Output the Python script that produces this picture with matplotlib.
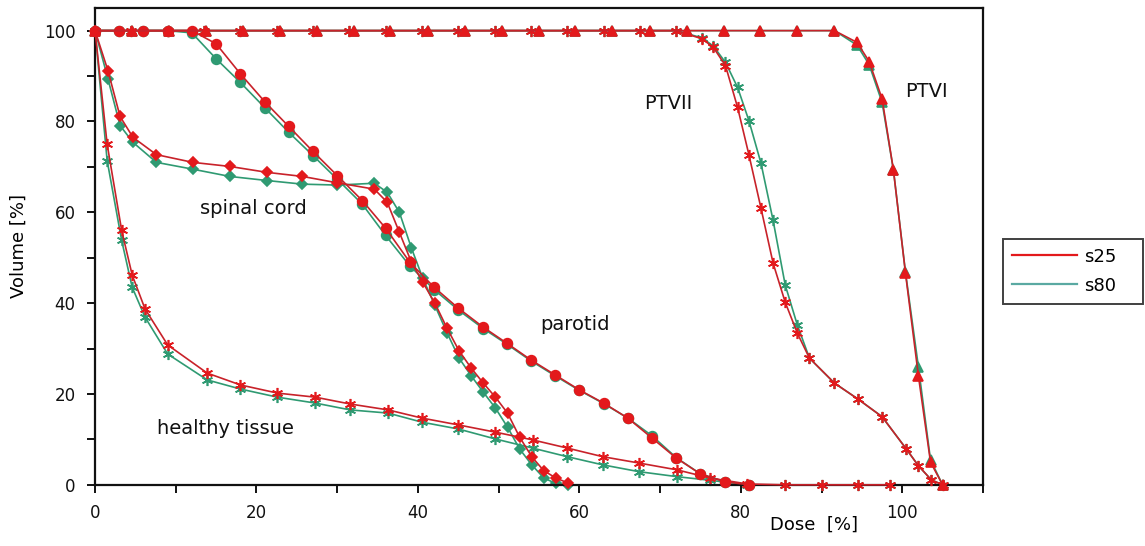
import matplotlib
matplotlib.use("Agg")
import matplotlib.pyplot as plt
from matplotlib.lines import Line2D
from matplotlib.ticker import MultipleLocator

# --------------------------------------------------------------------------- #
# data: dose [%] vs volume [%], s25 (red) and s80 (green)
# --------------------------------------------------------------------------- #
ptv1_dose = [0, 4.6, 9.2, 13.7, 18.3, 22.9, 27.5, 32.1, 36.6, 41.2, 45.8, 50.4,
             55.0, 59.5, 64.1, 68.7, 73.3, 77.9, 82.4, 87.0, 91.6,
             94.4, 95.9, 97.5, 98.9, 100.4, 102.0, 103.5, 105.0]
ptv1_s25 = [100] * 21 + [97.4, 93.2, 85.0, 69.4, 46.6, 24.0, 5.0, 0]
ptv1_s80 = [100] * 21 + [96.8, 92.5, 84.2, 69.4, 46.8, 26.0, 5.5, 0]

ptv2_dose = [0, 4.5, 9.0, 13.5, 18.0, 22.5, 27.0, 31.5, 36.0, 40.5, 45.0, 49.5,
             54.0, 58.5, 63.0, 67.5, 72.0,
             75.2, 76.6, 78.1, 79.6, 81.0, 82.5, 84.0, 85.5, 87.0, 88.5,
             91.6, 94.5, 97.5, 100.5, 102.0, 103.6, 105.0]
ptv2_s25 = [100] * 17 + [98.2, 96.3, 92.3, 83.1, 72.7, 60.9, 48.8, 40.2, 33.4, 27.9,
                         22.4, 18.9, 15.0, 7.9, 4.2, 1.1, 0]
ptv2_s80 = [100] * 17 + [98.4, 96.6, 93.0, 87.5, 80.2, 70.8, 58.2, 44.0, 35.2, 27.9,
                         22.4, 18.9, 15.0, 7.9, 4.2, 1.1, 0]

par_dose = [0, 3.0, 6.0, 9.0, 12.0, 15.0, 18.0, 21.1, 24.0, 27.0, 30.0, 33.1, 36.0,
            39.0, 42.0, 45.0, 48.1, 51.0, 54.0, 57.0, 60.0, 63.0, 66.0, 69.0, 72.0,
            75.0, 78.0, 81.0]
par_s25 = [100, 100, 100, 100, 100, 97.1, 90.5, 84.2, 78.9, 73.4, 68.1, 62.6, 56.5,
           49.0, 43.5, 38.9, 34.7, 31.2, 27.5, 24.2, 20.9, 18.0, 14.7, 10.3, 5.9,
           2.4, 0.7, 0]
par_s80 = [100, 100, 100, 100, 99.5, 93.8, 88.6, 82.9, 77.6, 72.5, 67.3, 61.8, 54.9,
           48.2, 43.0, 38.5, 34.4, 31.0, 27.3, 24.0, 20.8, 17.9, 14.7, 10.8, 6.0,
           2.4, 0.7, 0]

cord_dose = [0, 1.6, 3.1, 4.7, 7.6, 12.1, 16.7, 21.3, 25.7, 30.0, 34.6, 36.2, 37.7,
             39.2, 40.6, 42.1, 43.6, 45.1, 46.6, 48.1, 49.6, 51.1, 52.6, 54.1, 55.6,
             57.1, 58.6]
cord_s25 = [100, 91.2, 81.1, 76.5, 72.7, 71.0, 70.1, 68.8, 67.9, 66.5, 65.1, 62.2, 55.6,
            49.0, 44.6, 40.0, 34.5, 29.5, 25.7, 22.4, 19.3, 15.8, 10.5, 6.2, 3.1,
            1.5, 0.4]
cord_s80 = [100, 89.4, 79.1, 75.4, 71.0, 69.5, 67.9, 67.0, 66.2, 66.0, 66.4, 64.4, 60.0,
            52.1, 45.5, 39.5, 33.5, 27.9, 24.0, 20.4, 16.9, 12.7, 7.9, 4.4, 1.5,
            0.3, 0]

hlth_dose = [0, 1.5, 3.3, 4.6, 6.2, 9.0, 13.9, 18.0, 22.6, 27.3, 31.6, 36.3, 40.5,
             45.0, 49.6, 54.2, 58.5, 62.9, 67.4, 72.1, 76.2, 80.8, 85.5, 90.1, 94.5,
             98.5]
hlth_s25 = [100, 75.0, 56.0, 46.2, 38.7, 30.8, 24.6, 22.0, 20.2, 19.3, 17.8, 16.5, 14.7,
            13.2, 11.6, 9.9, 8.1, 6.2, 4.8, 3.3, 1.5, 0.2, 0, 0, 0, 0]
hlth_s80 = [100, 71.4, 53.8, 43.5, 36.9, 28.8, 23.1, 21.1, 19.3, 18.0, 16.5, 15.8, 13.8,
            12.3, 10.1, 8.1, 6.2, 4.4, 2.9, 1.8, 1.0, 0, 0, 0, 0, 0]

structures = [
    (hlth_dose, hlth_s25, hlth_s80, (6, 2, 0), 8),
    (cord_dose, cord_s25, cord_s80, "D", 5.5),
    (par_dose, par_s25, par_s80, "o", 7),
    (ptv2_dose, ptv2_s25, ptv2_s80, (6, 2, 0), 8),
    (ptv1_dose, ptv1_s25, ptv1_s80, "^", 7.5),
]

labels = [("PTVII", 71.0, 84.0), ("PTVI", 103.0, 86.5), ("spinal cord", 19.6, 60.9),
          ("parotid", 59.5, 35.2), ("healthy tissue", 16.1, 12.5)]

RED = "#e3191c"
RED_LINE = "#c8222a"
GREEN = "#2f9a72"
GREEN_LEG = "#5aa9a2"

# --------------------------------------------------------------------------- #
# plot
# --------------------------------------------------------------------------- #
fig = plt.figure(figsize=(11.45, 5.46), dpi=100)
ax = fig.add_axes([0.083, 0.112, 0.7755, 0.8735])

for dose, s25, s80, mk, ms in structures:
    ax.plot(dose, s80, color=GREEN, lw=1.2, marker=mk, ms=ms,
            mfc=GREEN, mec=GREEN, mew=1.2, zorder=2, clip_on=False)
for dose, s25, s80, mk, ms in structures:
    ax.plot(dose, s25, color=RED_LINE, lw=1.2, marker=mk, ms=ms,
            mfc=RED, mec=RED, mew=1.2, zorder=3, clip_on=False)

for txt, x, y in labels:
    ax.text(x, y, txt, fontsize=14, ha="center", va="center", color="#111111")

ax.set_xlim(0, 110)
ax.set_ylim(0, 105)
ax.xaxis.set_major_locator(MultipleLocator(20))
ax.xaxis.set_minor_locator(MultipleLocator(10))
ax.yaxis.set_major_locator(MultipleLocator(20))
ax.yaxis.set_minor_locator(MultipleLocator(10))
ax.set_xticks([0, 20, 40, 60, 80, 100])
ax.tick_params(which="both", direction="out", length=6, width=1.4, labelsize=12,
               colors="#111111", pad=8)
for s in ax.spines.values():
    s.set_linewidth(1.6)
    s.set_color("#111111")

ax.set_ylabel("Volume [%]", fontsize=13, labelpad=12)
ax.set_xlabel("Dose  [%]", fontsize=13)
ax.xaxis.set_label_coords(0.81, -0.065)

# legend box sits right of the axes and runs to the figure edge
handles = [Line2D([], [], color=RED, lw=1.6), Line2D([], [], color=GREEN_LEG, lw=1.6)]
leg = fig.legend(handles, ["s25", "s80"], loc="center left", mode="expand",
                 bbox_to_anchor=(0.876, 0.443, 0.122, 0.121), fontsize=13,
                 frameon=True, fancybox=False, edgecolor="#111111",
                 handlelength=3.6, borderpad=0.5, labelspacing=0.6,
                 handletextpad=0.4, borderaxespad=0.0)
leg.get_frame().set_linewidth(1.4)

fig.savefig("out.png", dpi=100)
